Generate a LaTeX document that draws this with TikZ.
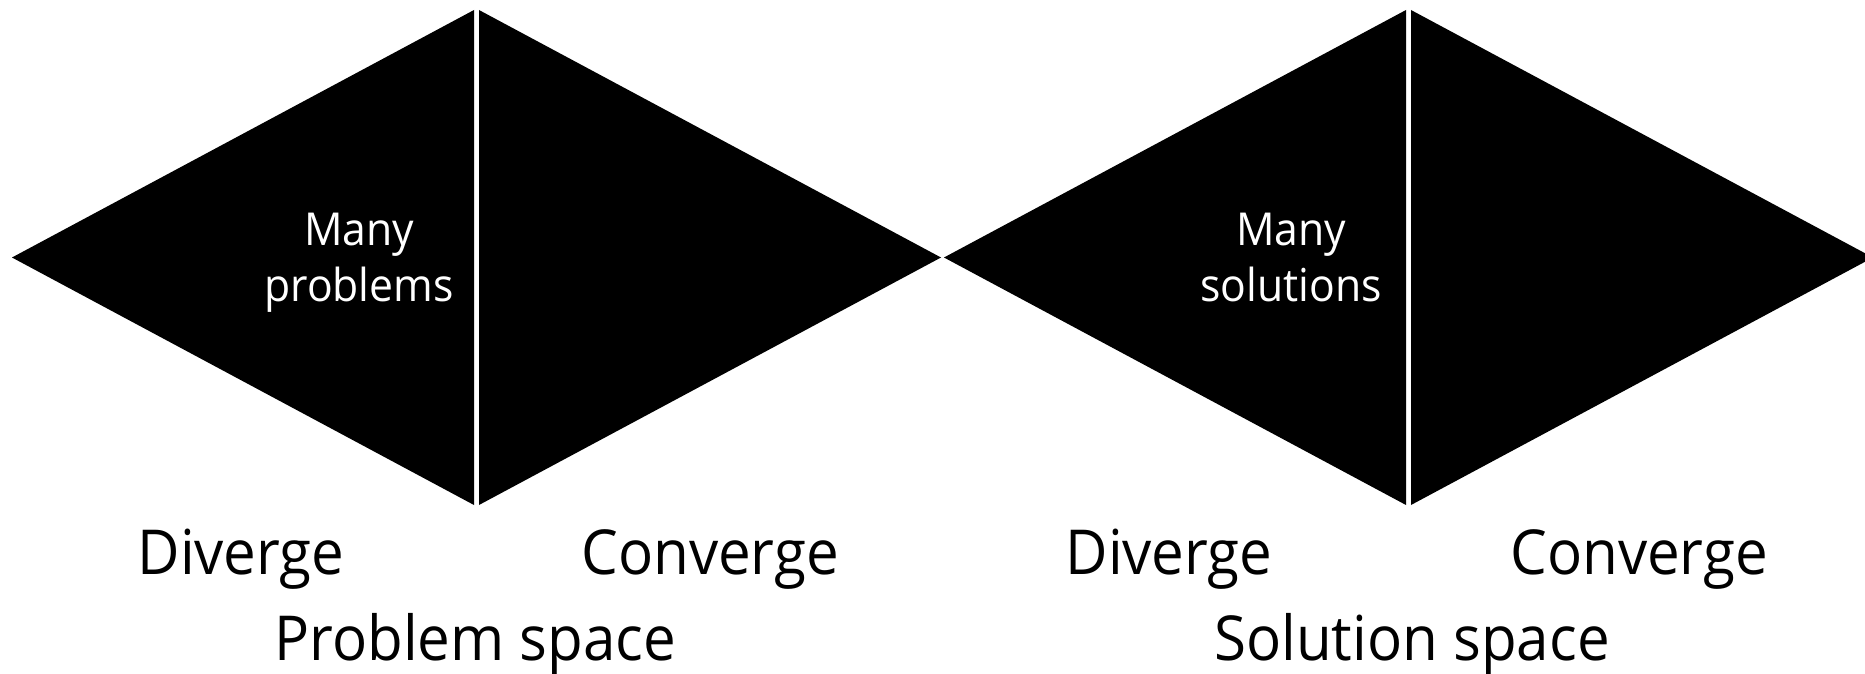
\documentclass[tikz,border=0pt]{standalone}
\usepackage{fontspec}
\setmainfont{Open Sans}[FakeStretch=0.94]
\begin{document}
\begin{tikzpicture}[x=0.5pt,y=-0.5pt,
  tri/.style={fill=black},
  big/.style={font=\fontsize{31}{37}\selectfont, anchor=base, inner sep=0pt},
  small/.style={font=\fontsize{22.7}{27.5}\selectfont, text=white, align=center, anchor=base, inner sep=0pt}]
\useasboundingbox (0,0) rectangle (1865,674);
\clip (0,0) rectangle (1865,674);
% diamond 1
\coordinate (a1) at (12,257.5);
\coordinate (a2) at (474,10);
\coordinate (a3) at (474,505);
\coordinate (b1) at (479,10);
\coordinate (b2) at (479,505);
\coordinate (b3) at (941,257.5);
\fill[tri] (a1) -- (a2) -- (a3) -- cycle;
\fill[tri] (b1) -- (b3) -- (b2) -- cycle;
% diamond 2
\coordinate (c1) at (944,257.5);
\coordinate (c2) at (1406,10);
\coordinate (c3) at (1406,505);
\coordinate (d1) at (1411,10);
\coordinate (d2) at (1411,505);
\coordinate (d3) at (1873,257.5);
\fill[tri] (c1) -- (c2) -- (c3) -- cycle;
\fill[tri] (d1) -- (d3) -- (d2) -- cycle;
% labels
\node[small] (mp1) at (359,245) {Many};
\node[small] (mp2) at (359,301) {problems};
\node[small] (ms1) at (1291,245) {Many};
\node[small] (ms2) at (1291,301) {solutions};
\node[big] (dv1) at (241,574) {Diverge};
\node[big] (cv1) at (710,574) {Converge};
\node[big] (ps) at (475.5,660) {Problem space};
\node[big] (dv2) at (1169,574) {Diverge};
\node[big] (cv2) at (1639,574) {Converge};
\node[big] (ss) at (1412,660) {Solution space};
\end{tikzpicture}
\end{document}
